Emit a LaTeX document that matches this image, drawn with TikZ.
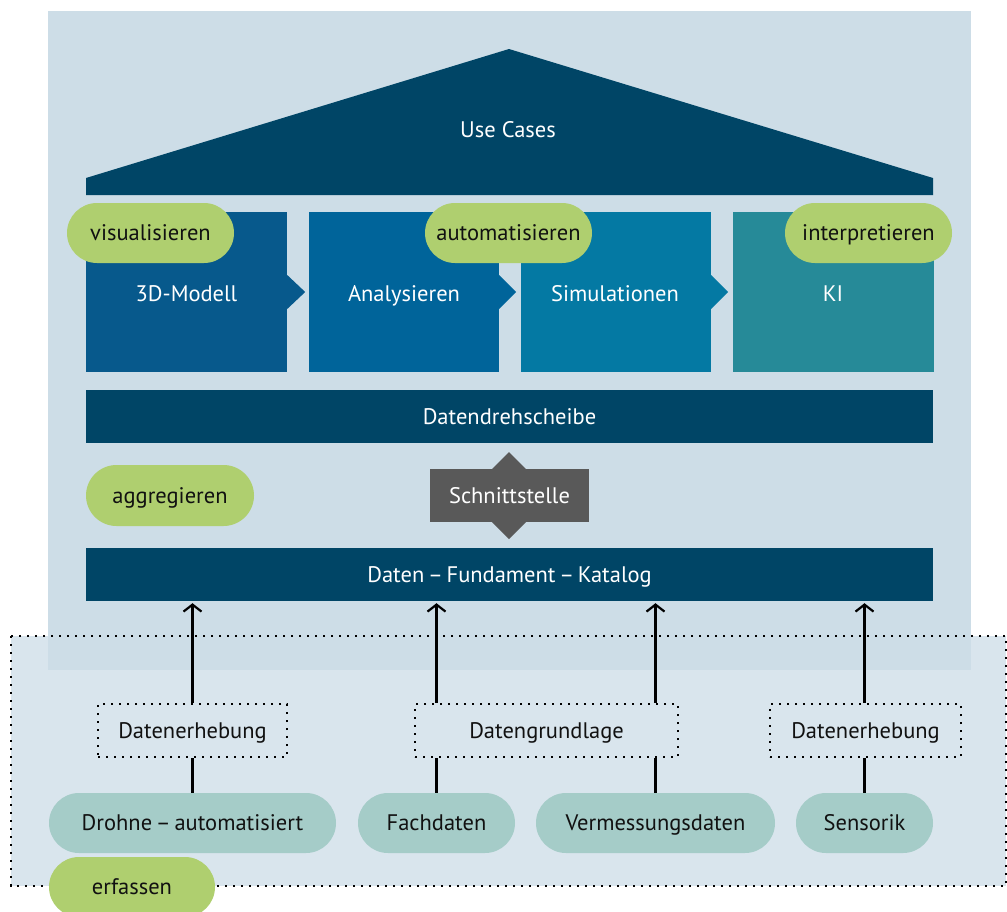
\documentclass[tikz,border=0pt]{standalone}
\usepackage{fontspec}
\setmainfont{PT Sans}
\usetikzlibrary{arrows.meta,calc,shapes.misc}
\definecolor{panel}{HTML}{CDDDE7}
\definecolor{lowbg}{HTML}{D9E5ED}
\definecolor{navy}{HTML}{004566}
\definecolor{bA}{HTML}{07598C}
\definecolor{bB}{HTML}{00649A}
\definecolor{bC}{HTML}{0479A3}
\definecolor{bD}{HTML}{268A98}
\definecolor{lime}{HTML}{AFCF6F}
\definecolor{tealp}{HTML}{A5CCC8}
\definecolor{grayb}{HTML}{595959}
\definecolor{ink}{HTML}{111111}
\begin{document}
\begin{tikzpicture}[x=1pt,y=-1pt,
  every node/.style={font=\fontsize{22.5}{26}\selectfont,text height=16pt,text depth=0.5pt},
  darkbox/.style={rectangle,inner sep=0pt,text=white,minimum height=53pt},
  modbox/.style={rectangle,inner sep=0pt,text=white,minimum height=160pt},
  greenpill/.style={rounded rectangle,fill=lime,text=ink,inner sep=0pt,minimum height=60pt},
  tealpill/.style={rounded rectangle,fill=tealp,text=ink,inner sep=0pt,minimum height=60pt},
  dotbox/.style={rectangle,draw=black,line width=2.2pt,dash pattern=on 2.2pt off 5.8pt,inner sep=0pt,minimum height=53pt,text=ink},
  conn/.style={draw=black,line width=2.2pt},
  arr/.style={conn,-{Straight Barb[length=7pt,width=18pt,line width=2.2pt]}}
]
\useasboundingbox (0,0) rectangle (1007,911);
\clip (0,0) rectangle (1007,911);
% lower area
\fill[lowbg] (11,636) rectangle (1006,886);
% upper panel
\fill[panel] (48,11) rectangle (971,670);
% dotted outline of the lower area
\draw[line width=2.2pt,dash pattern=on 2.2pt off 5.8pt] (11,636) rectangle (1006,886);

% roof
\fill[navy] (86,195) -- (86,178) -- (509,49) -- (933,178) -- (933,195) -- cycle;
\node[text=white] (uc) at (508,130) {Use Cases};

% module boxes
\node[modbox,fill=bA,minimum width=201pt] (m1) at (186.5,292) {};
\node[modbox,fill=bB,minimum width=190pt] (m2) at (404,292) {};
\node[modbox,fill=bC,minimum width=190pt] (m3) at (616,292) {};
\node[modbox,fill=bD,minimum width=201pt] (m4) at (833.5,292) {};
\fill[bA] ($(m1.east)+(0,-17)$) -- ($(m1.east)+(18,0)$) -- ($(m1.east)+(0,17)$) -- cycle;
\fill[bB] ($(m2.east)+(0,-17)$) -- ($(m2.east)+(17,0)$) -- ($(m2.east)+(0,17)$) -- cycle;
\fill[bC] ($(m3.east)+(0,-17)$) -- ($(m3.east)+(17,0)$) -- ($(m3.east)+(0,17)$) -- cycle;
\node[text=white] (t1) at (186.5,294) {3D-Modell};
\node[text=white] (t2) at (404,294) {Analysieren};
\node[text=white] (t3) at (615,294) {Simulationen};
\node[text=white] (t4) at (833,294) {KI};

% green pills
\node[greenpill,minimum width=167pt] (vis) at (150.5,233) {visualisieren};
\node[greenpill,minimum width=167pt] (auto) at (508.5,233) {automatisieren};
\node[greenpill,minimum width=167pt] (interp) at (868.5,233) {interpretieren};

% hub and foundation
\node[darkbox,fill=navy,minimum width=847pt] (hub) at (509.5,416.5) {Datendrehscheibe};
\node[greenpill,minimum width=168pt,minimum height=61pt] (aggr) at (170,495.5) {aggregieren};
\fill[grayb] (509,452) -- (552.5,495.5) -- (509,539) -- (465.5,495.5) -- cycle;
\node[darkbox,fill=grayb,minimum width=159pt] (schn) at (509.5,495.5) {Schnittstelle};
\node[darkbox,fill=navy,minimum width=847pt] (fund) at (509.5,574.5) {Daten\,–\,Fundament\,–\,Katalog};

% lower area boxes
\node[dotbox,minimum width=189pt] (de1) at (192.5,730.5) {Datenerhebung};
\node[dotbox,minimum width=263pt] (dg) at (546.5,730.5) {Datengrundlage};
\node[dotbox,minimum width=191pt] (de2) at (865.5,730.5) {Datenerhebung};
\node[tealpill,minimum width=287pt] (drohne) at (192.5,823) {Drohne\,–\,automatisiert};
\node[tealpill,minimum width=157pt] (fach) at (436.5,823) {Fachdaten};
\node[tealpill,minimum width=239pt] (verm) at (655.5,823) {Vermessungsdaten};
\node[tealpill,minimum width=137pt] (sens) at (864.5,823) {Sensorik};
\node[greenpill,minimum width=166pt] (erf) at (132,887) {erfassen};

% connectors
\draw[conn] (drohne.north) -- (de1.south);
\draw[arr,shorten >=2pt] (de1.north) -- (de1.north |- fund.south);
\draw[conn] (fach.north) -- (fach.north |- dg.south);
\draw[arr,shorten >=2pt] (fach.north |- dg.north) -- (fach.north |- fund.south);
\draw[conn] (verm.north) -- (verm.north |- dg.south);
\draw[arr,shorten >=2pt] (verm.north |- dg.north) -- (verm.north |- fund.south);
\draw[conn] (sens.north) -- (sens.north |- de2.south);
\draw[arr,shorten >=2pt] (sens.north |- de2.north) -- (sens.north |- fund.south);
\end{tikzpicture}
\end{document}
